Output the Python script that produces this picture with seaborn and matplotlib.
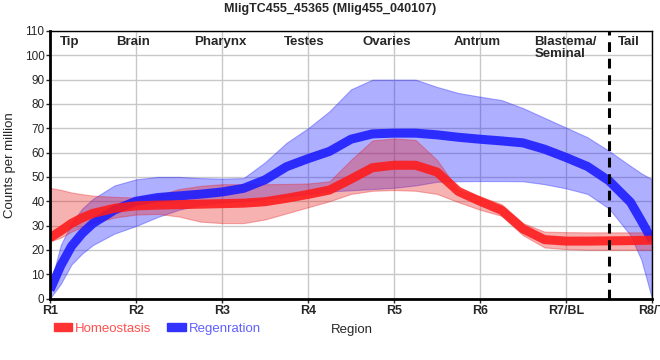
import numpy as np
import pandas as pd
import matplotlib
matplotlib.use("Agg")
import matplotlib.pyplot as plt
from matplotlib.patches import Patch
import seaborn as sns

# ---------------- data ----------------
region_ticks = ["R1", "R2", "R3", "R4", "R5", "R6", "R7/BL", "R8/T"]
region_names = ["Tip", "Brain", "Pharynx", "Testes", "Ovaries", "Antrum", "Blastema/\nSeminal", "Tail"]
region_name_pos = [0.23, 0.965, 1.98, 2.95, 3.92, 4.97, 5.63, 6.73]

pos = [0, 0.125, 0.25, 0.375, 0.5, 0.75, 1, 1.25, 1.5, 1.75, 2, 2.25, 2.5, 2.75,
       3, 3.25, 3.5, 3.75, 4, 4.25, 4.5, 4.75, 5, 5.25, 5.5, 5.75, 6, 6.25,
       6.5, 6.75, 6.875, 7]

homeo_mean = [25, 27.8, 30.9, 33.2, 35, 37.1, 38.1, 38.4, 38.6, 38.8, 39, 39.2, 39.8, 41.2,
              42.8, 44.6, 49.1, 53.8, 54.8, 54.8, 52, 44, 40, 36.3, 28.6, 24.2, 23.6, 23.6,
              23.7, 23.8, 23.9, 24]
homeo_upper = [45.5, 44.7, 43.6, 42.9, 42.3, 41.8, 41.5, 42.5, 45, 46.3, 47, 47, 47, 47.1,
               47.3, 48.2, 57, 65, 65.8, 65.2, 57, 44.5, 42, 38.8, 31, 27.5, 27.3, 27.2,
               27.2, 27.2, 27.2, 27.2]
homeo_lower = [23.5, 25, 27.5, 29.5, 31, 33.3, 34.5, 34.8, 33.7, 31.6, 31, 31, 32.5, 35,
               37.5, 40, 43, 44.3, 44.6, 44.3, 43, 39.6, 36.5, 34, 26, 21, 20.3, 20,
               20, 20, 20, 20]

regen_mean = [3.5, 13.5, 21.5, 26.8, 30.9, 36.4, 40, 41.5, 42.2, 42.9, 43.8, 45.3, 48.8, 54.2,
              57.5, 60.5, 65.5, 67.7, 68, 68, 67.3, 66.3, 65.5, 64.8, 64, 61.4, 58, 54.3,
              48.4, 39.6, 32, 24]
regen_upper = [5, 22, 31, 37, 41, 46.5, 49, 50, 50, 49.5, 49.3, 49.5, 56, 64,
               70, 77, 86, 90, 90, 90, 87, 84.5, 83, 81.6, 78.3, 74.3, 70.3, 66.3,
               60.7, 54.5, 51.5, 49]
regen_lower = [0, 6, 14, 18.5, 22, 26.7, 29.8, 33.5, 36.5, 38.5, 39.5, 40, 41, 42,
               43, 44, 44.5, 45, 45.5, 46.5, 48, 48.2, 48.3, 48.3, 48.2, 47, 45.3, 43,
               37, 26, 16, 0]

conditions = ["Homeostasis", "Regenration"]
tail_boundary = 6.5

# ---------------- style ----------------
sns.set_style("white")
plt.rcParams["font.family"] = ["Liberation Sans", "DejaVu Sans"]

RED = "#ff1a1a"
BLUE = "#1a1aff"

fig = plt.figure(figsize=(6.6, 3.6), dpi=100)
ax = fig.add_axes([50 / 660, 61.5 / 360, 602 / 660, 267.5 / 360])

# bands
ax.fill_between(pos, regen_lower, regen_upper, color=BLUE, alpha=0.35, lw=0.8, zorder=1)
ax.fill_between(pos, homeo_lower, homeo_upper, color="#e82020", alpha=0.35, lw=0.8, zorder=1)

# lines via seaborn
df = pd.DataFrame({
    "pos": pos * 2,
    "value": homeo_mean + regen_mean,
    "condition": [conditions[0]] * len(pos) + [conditions[1]] * len(pos),
})
sns.lineplot(data=df, x="pos", y="value", hue="condition",
             hue_order=["Regenration", "Homeostasis"],
             palette={"Homeostasis": RED, "Regenration": BLUE},
             lw=6.5, alpha=0.88, legend=False, sort=False, ax=ax, zorder=2)
for ln in ax.get_lines():
    ln.set_solid_joinstyle("round")
    ln.set_solid_capstyle("butt")

ax.axvline(tail_boundary, color="black", lw=2.2, ls=(0, (3.2, 2.2)), zorder=3)

ax.set_xlim(0, 7)
ax.set_ylim(0, 110)
ax.set_xticks(range(len(region_ticks)))
ax.set_xticklabels(region_ticks, fontweight="bold", fontsize=9)
ax.set_yticks(range(0, 111, 10))
ax.tick_params(axis="y", labelsize=8.5, length=3, width=1, pad=1, direction="out", left=True)
ax.tick_params(axis="x", length=3, width=1, pad=2, direction="out", bottom=True)
ax.grid(True, color="#c8c8c8", lw=1)
ax.set_axisbelow(True)
ax.set_xlabel("")
ax.set_ylabel("Counts per million", fontsize=9.5, labelpad=6)

for side in ["left", "bottom"]:
    ax.spines[side].set_linewidth(2)
    ax.spines[side].set_color("black")
for side in ["top", "right"]:
    ax.spines[side].set_linewidth(1)
    ax.spines[side].set_color("black")

for name, p in zip(region_names, region_name_pos):
    if "\n" in name:
        ax.text(p, 108.0, name, ha="left", va="top", fontweight="bold", fontsize=9.5,
                linespacing=1.0)
    else:
        ax.text(p, 108.0, name, ha="center", va="top", fontweight="bold", fontsize=9.5)

fig.text(0.5, 1 - 9 / 360, "MligTC455_45365 (Mlig455_040107)", ha="center", va="center",
         fontweight="bold", fontsize=9)
fig.text(352 / 660, 1 - 330 / 360, "Region", ha="center", va="center", fontsize=9.5)

handles = [Patch(color="#ff3333"), Patch(color="#3333ff")]
leg = fig.legend(handles, conditions, loc="center left",
                 bbox_to_anchor=(54 / 660, 1 - 329 / 360), ncol=2, frameon=False,
                 handlelength=1.4, handleheight=0.55, handletextpad=0.2,
                 columnspacing=1.2, fontsize=9.5, borderpad=0, borderaxespad=0)
for t, c in zip(leg.get_texts(), ["#ff5050", "#6060ff"]):
    t.set_color(c)

fig.savefig("out.png", dpi=100)
